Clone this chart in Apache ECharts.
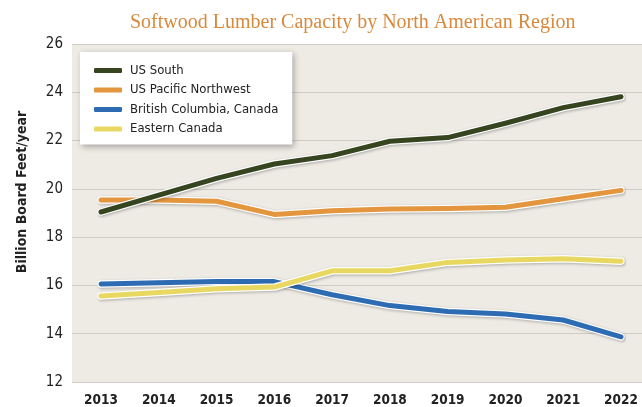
<!DOCTYPE html>
<html>
<head>
<meta charset="utf-8">
<title>Softwood Lumber Capacity by North American Region</title>
<script src="https://cdn.jsdelivr.net/npm/echarts@6/dist/echarts.min.js"></script>
<style>
  html, body { margin: 0; padding: 0; background: #ffffff; }
  #chart { width: 642px; height: 407px; }
</style>
</head>
<body>
<div id="chart"></div>
<script>
// Capacity by region, billion board feet per year
const years = ['2013', '2014', '2015', '2016', '2017', '2018', '2019', '2020', '2021', '2022'];
const usSouth = [19.0, 19.7, 20.4, 21.0, 21.35, 21.95, 22.1, 22.7, 23.35, 23.8];
const usPacificNorthwest = [19.5, 19.5, 19.45, 18.9, 19.05, 19.12, 19.15, 19.2, 19.55, 19.9];
const britishColumbia = [16.0, 16.05, 16.1, 16.1, 15.55, 15.1, 14.85, 14.75, 14.5, 13.8];
const easternCanada = [15.5, 15.65, 15.8, 15.87, 16.55, 16.55, 16.9, 17.0, 17.05, 16.95];

const regionNames = ['US South', 'US Pacific Northwest', 'British Columbia, Canada', 'Eastern Canada'];
const yMin = 12, yMax = 26, yStep = 2;

const narrow = "'Liberation Sans Narrow', 'DejaVu Sans Condensed', 'Roboto', sans-serif";

// drawing order: later entries sit on top
const layers = [
  { name: 'US Pacific Northwest', data: usPacificNorthwest, color: '#e3963e' },
  { name: 'US South', data: usSouth, color: '#364520' },
  { name: 'British Columbia, Canada', data: britishColumbia, color: '#2d6cb3' },
  { name: 'Eastern Canada', data: easternCanada, color: '#e8d862' }
];

const series = [];
layers.forEach(function (s) {
  // white edge under each line
  series.push({
    name: s.name + ' edge',
    type: 'line',
    xAxisIndex: 1, yAxisIndex: 1,
    data: s.data,
    symbol: 'none',
    silent: true,
    lineStyle: {
      color: '#ffffff', width: 7.5, cap: 'round', join: 'round',
      shadowColor: 'rgba(0,0,0,0.28)', shadowBlur: 3, shadowOffsetX: 1, shadowOffsetY: 1
    },
    itemStyle: { color: '#ffffff' }
  });
  series.push({
    name: s.name,
    type: 'line',
    xAxisIndex: 1, yAxisIndex: 1,
    data: s.data,
    symbol: 'none',
    lineStyle: { color: s.color, width: 5, cap: 'round', join: 'round' },
    itemStyle: { color: s.color }
  });
});

const chart = echarts.init(document.getElementById('chart'), null, { renderer: 'canvas' });
chart.setOption({
  animation: false,
  backgroundColor: '#ffffff',
  title: {
    text: 'Softwood Lumber Capacity by North American Region',
    left: 125,
    top: 8,
    textStyle: {
      fontFamily: "'Liberation Serif', 'DejaVu Serif', serif",
      fontWeight: 'normal',
      fontSize: 20,
      color: '#d8893d'
    }
  },
  legend: {
    data: regionNames,
    orient: 'vertical',
    left: 80,
    top: 52,
    icon: 'roundRect',
    itemWidth: 28,
    itemHeight: 5,
    itemGap: 6.5,
    padding: [12, 14, 9, 14],
    backgroundColor: '#ffffff',
    shadowColor: 'rgba(0,0,0,0.3)',
    shadowBlur: 6,
    shadowOffsetX: 2,
    shadowOffsetY: 2,
    textStyle: { fontFamily: narrow, fontSize: 13, color: '#222222', padding: [0, 0, 0, 3] }
  },
  grid: [
    { left: 72, right: 0, top: 44, bottom: 25, show: true, backgroundColor: '#eeebe5', borderWidth: 0 },
    { left: 101, right: 21, top: 44, bottom: 25 }
  ],
  xAxis: [
    { gridIndex: 0, type: 'category', data: years, show: false },
    {
      gridIndex: 1, type: 'category', data: years, boundaryGap: false,
      axisLine: { show: false }, axisTick: { show: false },
      axisLabel: { fontFamily: narrow, fontWeight: 'bold', fontSize: 13.5, color: '#222222', margin: 13 }
    }
  ],
  yAxis: [
    {
      gridIndex: 0, type: 'value', min: yMin, max: yMax, interval: yStep,
      axisLine: { show: false }, axisTick: { show: false },
      axisLabel: { fontFamily: narrow, fontSize: 15, color: '#222222', margin: 9 },
      splitLine: { show: true, lineStyle: { color: '#cfcbc5', width: 1 } }
    },
    { gridIndex: 1, type: 'value', min: yMin, max: yMax, interval: yStep, show: false, splitLine: { show: false } }
  ],
  graphic: [
    {
      type: 'text',
      x: 22, y: 192,
      rotation: Math.PI / 2,
      style: {
        text: 'Billion Board Feet/year',
        font: "bold 14px " + narrow,
        fill: '#222222',
        align: 'center',
        verticalAlign: 'middle'
      }
    }
  ],
  series: series
});
</script>
</body>
</html>
